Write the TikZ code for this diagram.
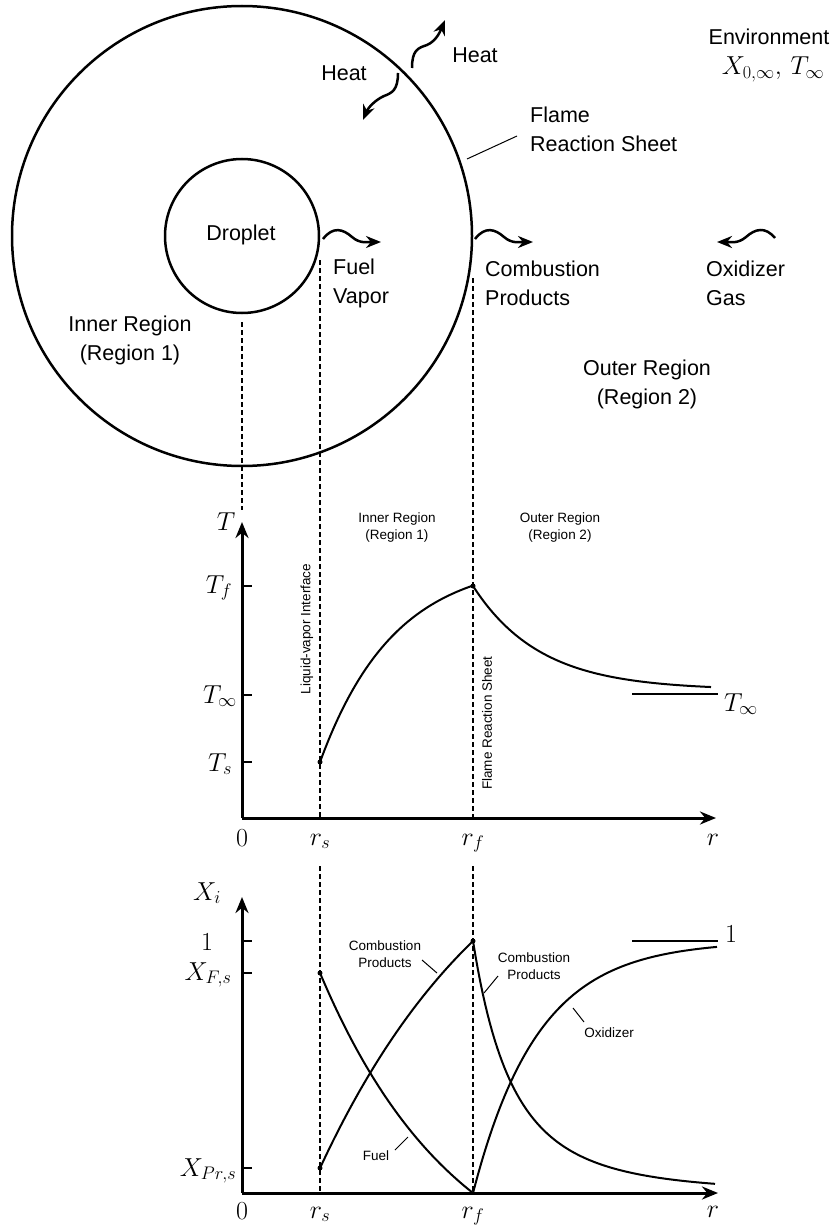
\documentclass[tikz,border=0pt]{standalone}
\usepackage{fix-cm}
\usepackage{fontspec}
\newfontfamily\arial{Liberation Sans}
\usetikzlibrary{arrows.meta}

\begin{document}
\begin{tikzpicture}[x=1pt, y=-1pt, >={Stealth[length=15pt,width=12pt]}]
% Styles for texts, axes and curves
\tikzset{
  txt/.style={font=\arial\fontsize{21.5}{29}\selectfont, align=center, inner sep=0pt},
  smalltxt/.style={font=\arial\fontsize{13.5}{17}\selectfont, align=center, inner sep=0pt},
  mth/.style={font=\fontsize{26}{30}\selectfont, inner sep=0pt},
  axis/.style={line width=3pt, -{Stealth[length=16pt,width=13pt]}},
  tickmark/.style={line width=2pt},
  curve/.style={line width=2pt},
  guide/.style={line width=1.3pt, dash pattern=on 5pt off 3pt},
  leader/.style={line width=1pt},
  dot/.style={circle, fill, inner sep=0pt, minimum size=5pt},
  flow/.style={line width=2.5pt, ->},
}
\useasboundingbox (0,0) rectangle (835,1225);

% Geometric parameters
\def\rs{320}    % droplet surface
\def\rf{473}    % flame sheet
\def\Ty{818}    % T graph axis
\def\Xy{1193}   % X graph axis

% --- DROPLET AND FLAME SHEET ---
\coordinate (C) at (242,236);
\draw[line width=2.5pt] (C) circle[radius=230pt];
\draw[line width=2.5pt] (C) circle[radius=77pt];
\node[txt] (drop) at (241,235) {Droplet};
\node[txt] (inner) at (130,340) {Inner Region\\(Region 1)};
\node[txt] (outer) at (647,384) {Outer Region\\(Region 2)};
\node[txt, anchor=west, align=left] (flame) at (530,129) {Flame\\Reaction Sheet};
\draw[leader] (467,159) -- (517,136);
\node[txt] (env) at (769,37) {Environment};
\node[mth] (envval) at (773,69) {$X_{0,\infty},\, T_\infty$};

% Heat across the flame sheet
\node[txt] (heatin) at (344,73) {Heat};
\node[txt] (heatout) at (475,55) {Heat};
\draw[flow] (412,68) .. controls (412,50) and (418,48) .. (427,45)
  .. controls (436,41) and (440,32) .. (445,20);
\draw[flow] (398,73) .. controls (398,90) and (392,93) .. (384,96)
  .. controls (375,100) and (368,108) .. (363,120);

% Species fluxes
\draw[flow] (323,239) .. controls (333,226) and (343,229) .. (352,237)
  .. controls (360,244) and (368,242) .. (381,242);
\draw[flow] (475,239) .. controls (485,226) and (495,229) .. (504,237)
  .. controls (512,244) and (520,242) .. (533,242);
\draw[flow] (775,238) .. controls (765,226) and (755,229) .. (746,237)
  .. controls (738,244) and (730,242) .. (717,242);
\node[txt, anchor=west, align=left] (fuel) at (333,283) {Fuel\\Vapor};
\node[txt, anchor=west, align=left] (prod) at (485,283) {Combustion\\Products};
\node[txt, anchor=west, align=left] (oxgas) at (706,283) {Oxidizer\\Gas};

% --- DASHED GUIDES ---
\draw[guide] (242,322) -- (242,510);
\draw[guide] (\rs,260) -- (\rs,\Ty);
\draw[guide] (\rs,866) -- (\rs,\Xy);
\draw[guide] (\rf,278) -- (\rf,\Ty);
\draw[guide] (\rf,866) -- (\rf,\Xy);

% --- TEMPERATURE PROFILE ---
\coordinate (To) at (242,\Ty);
\draw[axis] (To) -- (242,522);
\draw[axis] (To) -- (716,\Ty);
\foreach \yt in {586,695,762}
  \draw[tickmark] (242,\yt) -- (252,\yt);
\node[mth, anchor=base] (Tlab) at (226,530) {$T$};
\node[mth, anchor=base] (Tf) at (219,593) {$T_f$};
\node[mth, anchor=base] (Tinf) at (220,703) {$T_\infty$};
\node[mth, anchor=base] (Ts) at (220,771) {$T_s$};
\node[mth, anchor=base] (T0) at (242,846) {$0$};
\node[mth, anchor=base] (Trs) at (\rs,845) {$r_s$};
\node[mth, anchor=base] (Trf) at (\rf,845) {$r_f$};
\node[mth, anchor=base] (Tr) at (713,845) {$r$};
\node[smalltxt] (Tinner) at (397,528) {Inner Region\\(Region 1)};
\node[smalltxt] (Touter) at (560,528) {Outer Region\\(Region 2)};
\node[smalltxt, rotate=90] (lvi) at (307,629) {Liquid-vapor Interface};
\node[smalltxt, rotate=90] (frs) at (487,723) {Flame Reaction Sheet};

\draw[curve] plot[domain=\rs:\rf, samples=80] (\x, {560+202*exp(-(\x-320)/74)});
\draw[curve] plot[domain=\rf:711, samples=80] (\x, {690-104*exp(-(\x-473)/67)});
\draw[curve] (632,694) -- (718,694);
\node[mth, anchor=base west] (Tinfr) at (724,711) {$T_\infty$};
\node[dot] (Tsdot) at (\rs,762) {};
\node[dot] (Tfdot) at (\rf,586) {};

% --- MOLE FRACTIONS ---
\coordinate (Xo) at (242,\Xy);
\draw[axis] (Xo) -- (242,897);
\draw[axis] (Xo) -- (718,\Xy);
\foreach \yt in {941,973,1168}
  \draw[tickmark] (242,\yt) -- (252,\yt);
\node[mth, anchor=base] (Xlab) at (207,900) {$X_i$};
\node[mth, anchor=base] (Xone) at (207,950) {$1$};
\node[mth, anchor=base] (XFs) at (208,980) {$X_{F,s}$};
\node[mth, anchor=base] (XPs) at (208,1176) {$X_{Pr,s}$};
\node[mth, anchor=base] (X0) at (242,1219) {$0$};
\node[mth, anchor=base] (Xrs) at (\rs,1218) {$r_s$};
\node[mth, anchor=base] (Xrf) at (\rf,1218) {$r_f$};
\node[mth, anchor=base] (Xr) at (713,1217) {$r$};

% fuel, products (inner and outer), oxidizer
\draw[curve] plot[domain=\rs:\rf, samples=80]
  (\x, {1193-220*(exp(-1.1*(\x-320)/153)-0.3329)/0.6671});
\draw[curve] plot[domain=\rs:\rf, samples=80]
  (\x, {1168-227*(1-exp(-0.8*(\x-320)/153))/0.55067});
\draw[curve] plot[domain=\rf:715, samples=100]
  (\x, {1193-252/((1+(\x-473)/120)^3)});
\draw[curve] plot[domain=\rf:717, samples=100]
  (\x, {1193-252*(1-exp(-(\x-473)/65))});
\draw[curve] (632,941) -- (718,941);
\node[mth, anchor=base west] (Xoner) at (725,942) {$1$};
\node[dot] (XFdot) at (\rs,973) {};
\node[dot] (XPdot) at (\rs,1168) {};
\node[dot] (Xpk) at (\rf,941) {};

% labels of the curves
\node[smalltxt] (cpin) at (385,954) {Combustion\\Products};
\draw[leader] (422,960) -- (437,973);
\node[smalltxt] (fuellab) at (376,1156) {Fuel};
\draw[leader] (395,1150) -- (408,1137);
\node[smalltxt] (cpout) at (534,966) {Combustion\\Products};
\draw[leader] (498,976) -- (484,993);
\node[smalltxt] (oxlab) at (609,1033) {Oxidizer};
\draw[leader] (573,1008) -- (584,1022);

\end{tikzpicture}
\end{document}
